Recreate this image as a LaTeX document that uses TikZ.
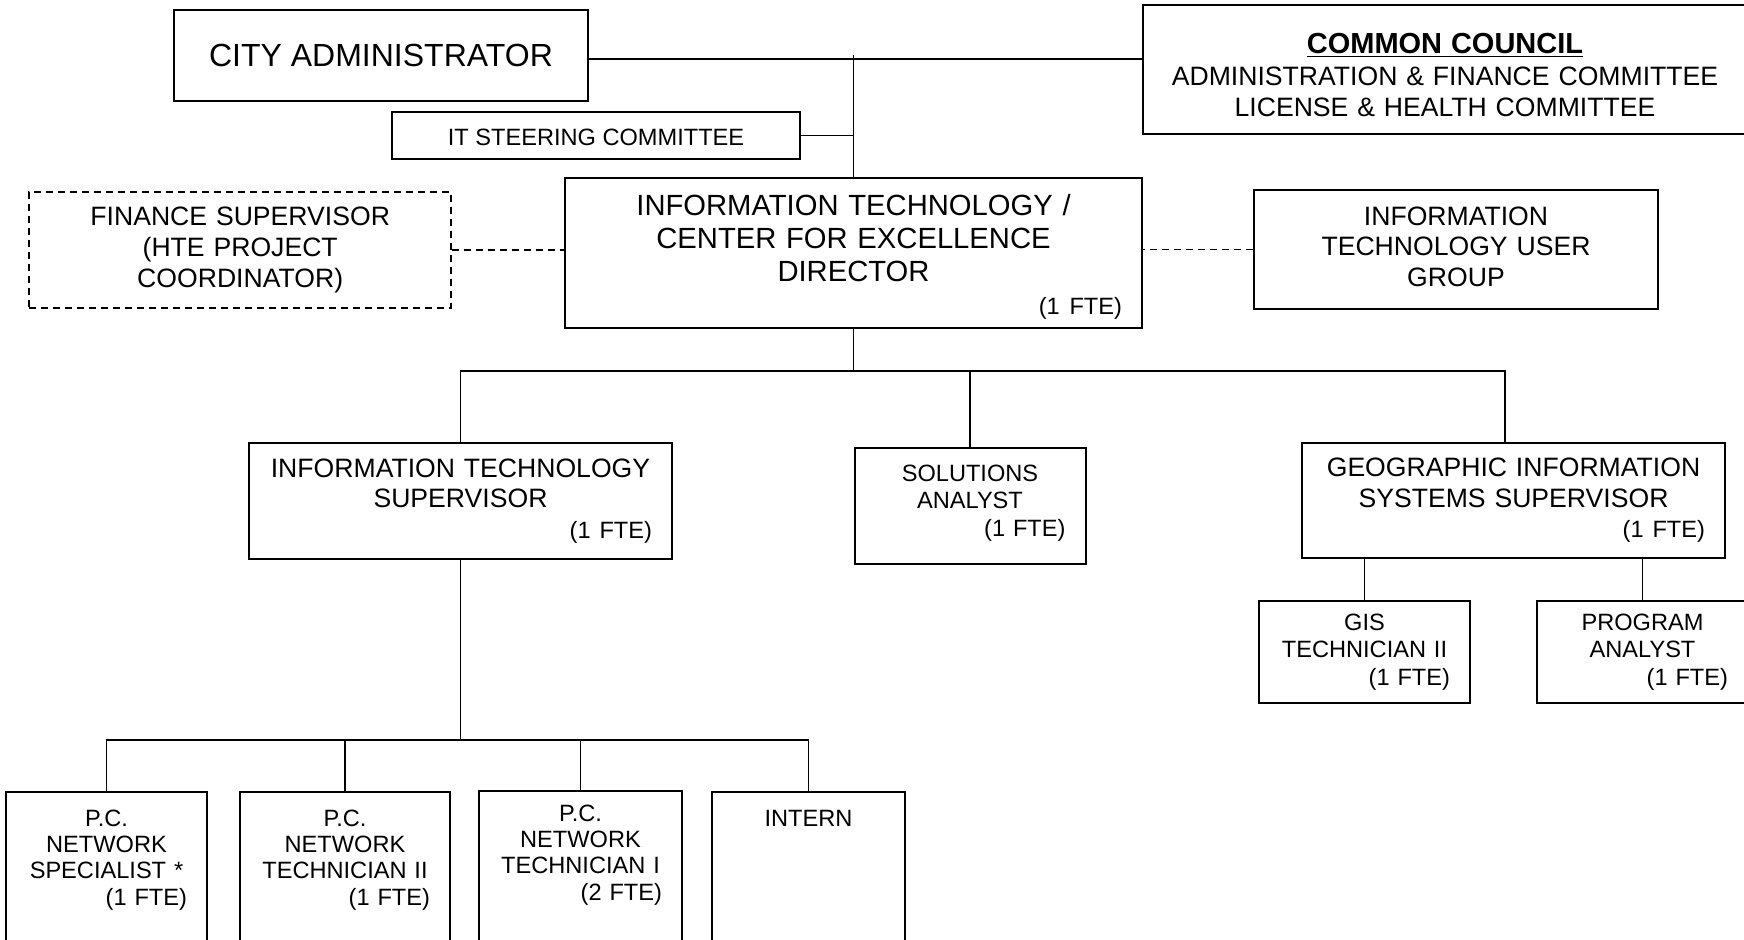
\documentclass[tikz,border=0pt]{standalone}
\usepackage{fontspec}
\setmainfont{Liberation Sans}
\usepackage{tikz}
\usetikzlibrary{positioning}
\newcommand{\bigtxt}{\fontsize{16}{18.4}\selectfont}
\newcommand{\dirtxt}{\fontsize{14.6}{16.5}\selectfont}
\newcommand{\midtxt}{\fontsize{13.3}{15.3}\selectfont}
\newcommand{\smalltxt}{\fontsize{11.8}{13.8}\selectfont}
\newcommand{\lowtxt}{\fontsize{11.8}{13.2}\selectfont}
\newcommand{\fte}[1]{\\\hspace*{0pt plus 1filll}{\smalltxt(#1~FTE)}}
\tikzset{box/.style={draw, line width=1pt, inner xsep=10pt, inner ysep=2pt, align=center}}
\tikzset{dashbox/.style={box, line width=0.8pt, dash pattern=on 3.5pt off 2.5pt}}
\tikzset{lowbox/.style={box, font=\lowtxt, minimum height=79.5pt, text height=8.5pt, text depth=54pt}}
\tikzset{link/.style={line width=0.9pt}, dashlink/.style={link, dash pattern=on 3.5pt off 2.5pt}}

\begin{document}
\begin{tikzpicture}
    \useasboundingbox (-426.75pt,126.5pt) rectangle (445.25pt,-343.5pt);
    \node[box, font=\dirtxt, text width=268.5pt, minimum height=75pt, text height=14.5pt] (dir) at (0,0) {INFORMATION TECHNOLOGY /\\CENTER FOR EXCELLENCE\\DIRECTOR\fte{1}};
    \node[box, font=\bigtxt, minimum width=207pt, minimum height=45.5pt, above left=37.5pt and 132.25pt of dir.north] (cityadm) {CITY ADMINISTRATOR};
    \node[box, font=\smalltxt, minimum width=204pt, minimum height=23.5pt, text height=10.5pt, above left=8.5pt and 26.25pt of dir.north] (itsteer) {IT STEERING COMMITTEE};
    \node[box, font=\midtxt, text width=282pt, minimum height=64.5pt, text height=15.4pt, above right=21pt and 144.25pt of dir.north] (council) {{\fontsize{14.5}{16.5}\selectfont\bfseries\underline{COMMON COUNCIL}}\\[1pt]ADMINISTRATION \& FINANCE COMMITTEE\\LICENSE \& HEALTH COMMITTEE};
    \node[dashbox, font=\midtxt, text width=191pt, minimum height=58pt, left=56pt of dir, yshift=1.5pt] (finsup) {FINANCE SUPERVISOR\\(HTE PROJECT\\COORDINATOR)};
    \node[box, font=\midtxt, text width=182pt, minimum height=59.5pt, text depth=33.5pt, right=55pt of dir, yshift=1.75pt] (usergrp) {INFORMATION\\TECHNOLOGY USER\\GROUP};
    \node[box, font=\midtxt, text width=191.5pt, minimum height=58pt, below left=56.5pt and 90.25pt of dir.south] (itsup) {INFORMATION~TECHNOLOGY\\SUPERVISOR\fte{1}};
    \node[box, font=\smalltxt, text width=95.5pt, minimum height=58pt, text depth=33pt, below right=59pt and 0pt of dir.south] (solan) {SOLUTIONS\\ANALYST\fte{1}};
    \node[box, font=\midtxt, text width=191.5pt, minimum height=57.5pt, below right=56.5pt and 223.75pt of dir.south] (gissup) {GEOGRAPHIC INFORMATION\\SYSTEMS SUPERVISOR\fte{1}};
    \node[box, font=\smalltxt, text width=85.5pt, minimum height=51pt, below left=20.5pt and 21.25pt of gissup.south] (gistech) {GIS\\TECHNICIAN~II\fte{1}};
    \node[box, font=\smalltxt, text width=85.5pt, minimum height=51pt, below right=20.5pt and 11.25pt of gissup.south] (progan) {PROGRAM\\ANALYST\fte{1}};
    \node[lowbox, text width=80.5pt, below left=115.5pt and 20pt of itsup.south west] (pcspec) {P.C.\\NETWORK\\SPECIALIST *\fte{1}};
    \node[lowbox, text width=85pt, right=15.5pt of pcspec] (pctech2) {P.C.\\NETWORK\\TECHNICIAN~II\fte{1}};
    \node[lowbox, text width=81.5pt, minimum height=75.5pt, right=13.5pt of pctech2, yshift=2.5pt] (pctech1) {P.C.\\NETWORK\\TECHNICIAN~I\fte{2}};
    \node[lowbox, text width=76.5pt, right=14pt of pctech1, yshift=-2.5pt] (intern) {INTERN\\~\\~\\~};
    % top level
    \draw[link] ([yshift=-1.75pt]cityadm.east) -- ([yshift=-1.75pt]cityadm.east -| council.west);
    \draw[link] (dir.north) -- (dir.north |- cityadm.east);
    \draw[link] (itsteer.east) -- (itsteer.east -| dir.north);
    \draw[dashlink] (finsup.east) -- (finsup.east -| dir.west);
    \draw[dashlink] (usergrp.west) -- (usergrp.west -| dir.east);
    % under the director
    \draw[link] (dir.south) -- ++(0,-21pt) coordinate (mid);
    \draw[link] (itsup.north) |- (mid) -| ([xshift=-4.25pt]gissup.north);
    \draw[link] (solan.north) -- (solan.north |- mid);
    \draw[link] (gistech.north) -- (gistech.north |- gissup.south);
    \draw[link] (progan.north) -- (progan.north |- gissup.south);
    % under the IT supervisor
    \draw[link] (itsup.south) -- ++(0,-90pt) coordinate (low);
    \draw[link] (pcspec.north) |- (low) -| (intern.north);
    \draw[link] (pctech2.north) -- (pctech2.north |- low);
    \draw[link] (pctech1.north) -- (pctech1.north |- low);
\end{tikzpicture}
\end{document}
